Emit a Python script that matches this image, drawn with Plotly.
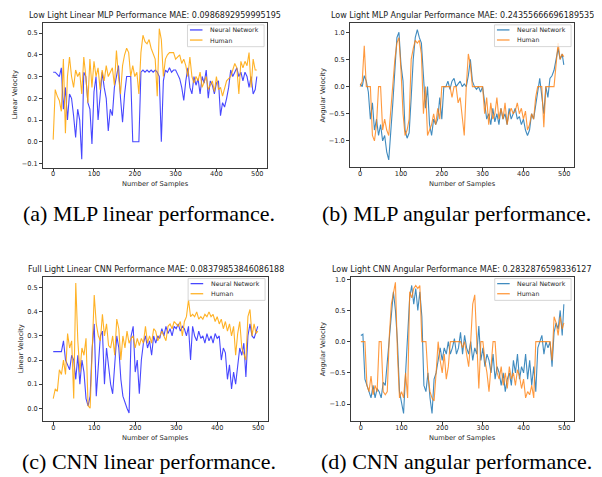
import plotly.graph_objects as go

# sample indices (every 5th sample, plus the last one)
samples = list(range(0, 500, 5)) + [499]

a_nn = [0.32,0.32,0.31,0.30,0.34,0.15,0.25,0.10,0.22,0.20,
        0.12,0.02,0.15,0.10,-0.08,0.32,0.30,0.18,0.15,-0.01,
        0.23,0.30,0.10,0.20,0.32,0.25,0.20,0.05,0.15,0.12,
        0.25,0.30,0.35,0.20,0.09,0.22,0.30,0.30,0.30,0.00,
        0.00,0.00,0.00,0.32,0.33,0.32,0.33,0.32,0.33,0.32,
        0.33,0.32,0.30,0.00,0.28,0.33,0.32,0.34,0.32,0.33,
        0.33,0.31,0.29,0.25,0.19,0.28,0.34,0.25,0.22,0.30,
        0.26,0.29,0.22,0.30,0.27,0.33,0.20,0.28,0.26,0.22,
        0.27,0.28,0.12,0.18,0.16,0.20,0.25,0.33,0.30,0.32,
        0.34,0.30,0.32,0.28,0.32,0.30,0.25,0.30,0.22,0.24,
        0.30]
a_hu = [0.01,0.24,0.21,0.19,0.14,0.38,0.04,0.30,0.39,0.30,
        0.25,0.33,0.30,0.32,0.22,0.39,0.30,0.18,0.38,0.25,
        0.37,0.30,0.34,0.24,0.33,0.28,0.35,0.30,0.32,0.34,
        0.26,0.42,0.30,0.22,0.35,0.40,0.43,0.41,0.30,0.35,
        0.30,0.32,0.22,0.41,0.49,0.46,0.45,0.47,0.43,0.40,
        0.38,0.21,0.52,0.47,0.30,0.38,0.40,0.41,0.41,0.41,
        0.38,0.39,0.40,0.36,0.38,0.35,0.30,0.39,0.30,0.27,
        0.30,0.28,0.32,0.25,0.28,0.30,0.24,0.26,0.28,0.23,
        0.30,0.24,0.25,0.21,0.25,0.28,0.29,0.30,0.33,0.36,
        0.34,0.22,0.37,0.34,0.37,0.35,0.41,0.25,0.38,0.33,
        0.33]
b_nn = [0.05,0.00,0.20,0.10,-0.10,-0.60,-0.30,-0.80,-0.60,-0.90,
        -0.70,-1.00,-0.90,-1.20,-1.35,-0.90,-0.30,0.30,0.90,1.00,
        0.40,0.10,-0.80,-0.95,-0.85,-0.20,0.50,0.90,1.05,0.90,
        0.80,0.20,-0.40,0.00,-0.70,-0.90,-0.60,-0.70,-0.60,-0.20,
        -0.60,0.00,0.00,0.10,-0.05,0.10,0.15,0.00,0.05,0.10,
        0.00,0.05,0.00,0.20,0.50,0.10,0.00,-0.05,0.00,-0.10,
        0.00,-0.30,-0.60,-0.50,-0.70,-0.40,-0.65,-0.50,-0.70,-0.40,
        -0.60,-0.50,-0.70,-0.40,-0.60,-0.50,-0.40,-0.60,-0.55,-0.70,
        -0.60,-0.80,-0.90,-0.80,-0.50,-0.60,-0.30,-0.10,0.15,-0.20,
        -0.50,0.00,-0.20,0.15,0.20,0.30,0.50,0.70,0.50,0.60,
        0.40]
b_hu = [0.00,0.10,0.75,0.00,0.00,0.00,-0.90,-1.00,-0.70,0.00,
        0.00,-0.80,-0.60,-0.80,-0.90,-0.40,0.10,0.50,0.80,0.90,
        0.30,-0.50,-0.90,-0.80,-0.60,0.50,0.70,0.85,0.80,0.85,
        0.60,-0.50,0.00,-0.90,-0.80,-0.70,-0.50,-0.70,-0.40,-0.60,
        0.00,0.00,0.00,0.00,0.00,-0.20,0.00,0.00,-0.30,-0.20,
        -0.50,-0.90,0.00,0.60,0.40,0.00,0.00,0.00,0.00,0.00,
        0.00,-0.50,-0.20,-0.70,-0.30,-0.60,-0.50,-0.20,-0.60,-0.40,
        -0.60,-0.30,-0.70,-0.50,-0.40,-0.50,-0.45,-0.30,-0.50,-0.40,
        -0.60,-0.45,-0.80,-0.70,-0.50,-0.60,-0.20,0.00,0.00,0.00,
        -0.75,0.00,0.00,0.00,0.00,0.00,0.40,0.80,0.50,0.60,
        0.55]
c_nn = [0.235,0.235,0.235,0.235,0.235,0.28,0.20,0.18,0.16,0.22,
        0.20,0.12,0.22,0.10,0.20,0.15,0.04,0.01,0.05,0.25,
        0.35,0.05,0.20,0.30,0.32,0.10,0.25,0.18,0.10,0.06,
        0.20,0.30,0.25,0.12,0.05,0.02,0.00,-0.02,0.30,0.34,
        0.15,0.20,0.06,0.20,0.27,0.30,0.25,0.28,0.22,0.30,
        0.27,0.30,0.29,0.33,0.30,0.34,0.31,0.33,0.30,0.34,
        0.33,0.35,0.32,0.34,0.33,0.30,0.34,0.20,0.34,0.30,
        0.28,0.32,0.29,0.30,0.27,0.31,0.28,0.30,0.27,0.31,
        0.29,0.30,0.20,0.25,0.23,0.12,0.18,0.08,0.15,0.10,
        0.18,0.25,0.22,0.27,0.13,0.30,0.35,0.30,0.29,0.32,
        0.34]
c_hu = [0.04,0.08,0.07,0.16,0.14,0.20,0.14,0.31,0.25,0.28,
        0.04,0.52,0.28,0.15,0.25,0.22,0.29,0.01,0.00,0.20,
        0.47,0.35,0.30,0.28,0.39,0.30,0.35,0.26,0.25,0.30,
        0.22,0.37,0.33,0.20,0.30,0.25,0.32,0.27,0.29,0.30,
        0.25,0.29,0.26,0.29,0.27,0.34,0.27,0.30,0.27,0.33,
        0.32,0.28,0.30,0.32,0.30,0.28,0.34,0.35,0.33,0.36,
        0.35,0.34,0.36,0.30,0.36,0.38,0.45,0.38,0.39,0.38,
        0.40,0.37,0.38,0.37,0.39,0.38,0.40,0.38,0.39,0.36,
        0.38,0.35,0.37,0.33,0.36,0.32,0.35,0.30,0.34,0.22,
        0.31,0.36,0.25,0.22,0.20,0.38,0.41,0.30,0.35,0.31,
        0.32]
d_nn = [0.10,0.12,-0.60,-0.70,-0.80,-0.90,-0.70,-0.90,-0.75,-0.80,
        -0.90,-0.65,-0.70,-0.30,0.10,0.40,0.80,0.50,0.00,-0.80,
        -0.95,-1.15,-0.50,0.20,0.70,0.90,0.60,0.85,0.50,0.80,
        0.40,-0.70,-0.80,-0.50,-0.90,-1.15,-0.60,-0.50,-0.30,-0.10,
        -0.30,-0.10,-0.20,0.00,-0.20,-0.10,0.05,-0.20,-0.10,0.15,
        -0.20,0.10,-0.10,-0.20,0.00,-0.30,-0.10,-0.20,0.25,-0.30,
        -0.10,-0.40,-0.20,-0.30,-0.50,-0.20,-0.60,-0.40,-0.50,-0.70,
        -0.50,-0.80,-0.60,-0.50,-0.70,-0.30,-0.50,-0.20,-0.60,-0.40,
        -0.50,-0.20,-0.60,-0.30,-0.70,-0.40,-0.80,-0.10,0.00,0.10,
        -0.20,0.00,-0.10,0.00,-0.40,0.15,0.30,0.20,0.50,0.10,
        0.60]
d_hu = [0.00,0.00,0.00,-0.70,-0.80,-0.55,-0.85,-0.70,-0.80,0.00,
        0.00,-0.80,-0.85,-0.80,0.10,0.60,0.80,0.95,-0.20,-0.90,
        -0.80,-0.90,-0.50,-0.90,0.80,0.70,0.85,0.90,0.85,0.90,
        0.00,0.00,0.00,-0.55,-0.80,-0.90,-0.95,-0.50,0.00,-0.30,
        -0.50,-0.20,-0.60,-0.40,0.00,0.00,0.00,0.00,0.00,0.00,
        -0.10,0.00,-0.20,-0.40,0.00,0.60,0.75,0.00,-0.75,0.00,
        0.00,-0.30,-0.50,-0.80,-0.40,0.00,0.00,-0.50,-0.60,-0.40,
        -0.70,-0.50,-0.75,-0.40,-0.60,-0.50,-0.70,-0.45,-0.55,-0.75,
        -0.60,-0.90,-0.80,-0.85,-0.70,-0.90,0.00,0.00,0.00,0.00,
        0.00,0.00,0.00,0.00,-0.30,0.40,0.30,0.10,0.40,0.20,
        0.30]

titles = ["Low Light Linear MLP Performance MAE: 0.0986892959995195",
          "Low Light MLP Angular Performance MAE: 0.24355666696189535",
          "Full Light Linear CNN Performance MAE: 0.08379853846086188",
          "Low Light CNN Angular Performance MAE: 0.2832876598336127"]
ylabels = ["Linear Velocity", "Angular Velocity", "Linear Velocity", "Angular Velocity"]
captions = ["(a) MLP linear performance.", "(b) MLP angular performance.",
            "(c) CNN linear performance.", "(d) CNN angular performance."]
series_names = ["Neural Network", "Human"]

# the page body has an 8px margin, so the figure is drawn 8px in from the window corner
OFF = 8
WIN_W, WIN_H = 602, 477
W, H = WIN_W - OFF, WIN_H - OFF


def px_x(X):
    return (X - OFF) / W


def px_y(Y):
    return 1 - (Y - OFF) / H


FONT = "DejaVu Sans"
panels = [
    dict(nn=a_nn, hu=a_hu, cols=("rgba(0,0,255,0.72)", "rgba(255,165,0,0.85)"),
         box=(43, 267, 23, 167.5), yr=(-0.118, 0.546), yt=[-0.1, 0, 0.1, 0.2, 0.3, 0.4, 0.5],
         ylx=15, xly=184),
    dict(nn=b_nn, hu=b_hu, cols=("rgba(31,119,180,0.85)", "rgba(255,127,14,0.8)"),
         box=(350, 574, 23, 167), yr=(-1.48, 1.17), yt=[-1.0, -0.5, 0, 0.5, 1.0],
         ylx=322.5, xly=184),
    dict(nn=c_nn, hu=c_hu, cols=("rgba(0,0,255,0.72)", "rgba(255,165,0,0.85)"),
         box=(43, 268, 276.7, 421), yr=(-0.053, 0.546), yt=[0, 0.1, 0.2, 0.3, 0.4, 0.5],
         ylx=20.5, xly=437.5),
    dict(nn=d_nn, hu=d_hu, cols=("rgba(31,119,180,0.85)", "rgba(255,127,14,0.8)"),
         box=(350.7, 574, 276.7, 421), yr=(-1.27, 1.04), yt=[-1.0, -0.5, 0, 0.5, 1.0],
         ylx=322.5, xly=437.5),
]
cap_pos = [(148.5, 214), (456.5, 214), (148.5, 461), (456.5, 461)]

fig = go.Figure()
annotations = []
shapes = []
axis_common = dict(showline=True, mirror=True, linecolor="#3a3a3a", linewidth=0.8,
                   ticks="outside", ticklen=3, tickwidth=0.8, tickcolor="#3a3a3a",
                   tickfont=dict(family=FONT, size=6.6, color="#262626"),
                   showgrid=False, zeroline=False)

for i, p in enumerate(panels):
    k = "" if i == 0 else str(i + 1)
    x0, x1, y0, y1 = p["box"]
    fig.add_trace(go.Scatter(x=samples, y=p["nn"], mode="lines", name=series_names[0],
                             line=dict(color=p["cols"][0], width=1.1),
                             xaxis="x" + k, yaxis="y" + k, showlegend=False))
    fig.add_trace(go.Scatter(x=samples, y=p["hu"], mode="lines", name=series_names[1],
                             line=dict(color=p["cols"][1], width=1.1),
                             xaxis="x" + k, yaxis="y" + k, showlegend=False))
    fig.layout["xaxis" + k] = dict(axis_common, domain=[px_x(x0), px_x(x1)], anchor="y" + k,
                                   range=[-24.95, 523.95], tickvals=[0, 100, 200, 300, 400, 500],
                                   ticklabelstandoff=-3)
    fig.layout["yaxis" + k] = dict(axis_common, domain=[px_y(y1), px_y(y0)], anchor="x" + k,
                                   range=list(p["yr"]), tickvals=p["yt"], tickformat=".1f")
    xd, yd = "x%s domain" % k, "y%s domain" % k
    # title
    annotations.append(dict(text=titles[i], xref=xd, yref=yd, x=0.5, y=1, yanchor="bottom",
                            yshift=1, showarrow=False,
                            font=dict(family=FONT, size=8.0, color="#1a1a1a")))
    # axis labels
    annotations.append(dict(text=ylabels[i], xref="paper", yref=yd, x=px_x(p["ylx"]), y=0.5,
                            textangle=-90, showarrow=False, xanchor="center", yanchor="middle",
                            font=dict(family=FONT, size=6.7, color="#262626")))
    annotations.append(dict(text="Number of Samples", xref=xd, yref="paper", x=0.5,
                            y=px_y(p["xly"]), showarrow=False, yanchor="middle",
                            font=dict(family=FONT, size=6.7, color="#262626")))
    # legend box
    shapes.append(dict(type="rect", xref=xd, yref=yd, x0=0.645, x1=0.987, y0=0.836, y1=0.987,
                       line=dict(color="#cccccc", width=0.8), fillcolor="rgba(255,255,255,0.8)",
                       layer="above"))
    for j, yy in enumerate([0.952, 0.882]):
        shapes.append(dict(type="line", xref=xd, yref=yd, x0=0.656, x1=0.712, y0=yy, y1=yy,
                           line=dict(color=p["cols"][j], width=1.3), layer="above"))
        annotations.append(dict(text=series_names[j], xref=xd, yref=yd, x=0.737, y=yy,
                                xanchor="left", yanchor="middle", showarrow=False,
                                font=dict(family=FONT, size=6.2, color="#262626")))
    # caption
    cx, cy = cap_pos[i]
    annotations.append(dict(text=captions[i], xref="paper", yref="paper", x=px_x(cx), y=px_y(cy),
                            xanchor="center", yanchor="middle", showarrow=False,
                            font=dict(family="Liberation Serif", size=22, color="#000000")))

fig.update_layout(width=W, height=H, margin=dict(l=0, r=0, t=0, b=0),
                  paper_bgcolor="white", plot_bgcolor="white", showlegend=False,
                  annotations=annotations, shapes=shapes)
fig.write_html("out.html")
